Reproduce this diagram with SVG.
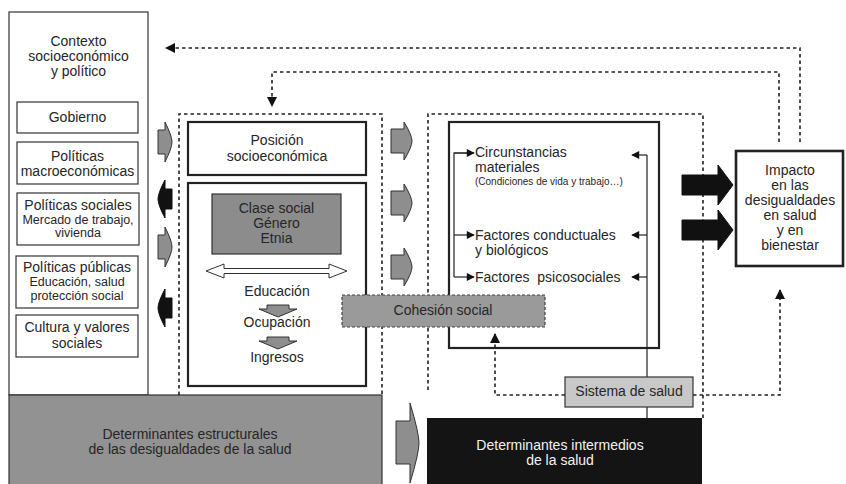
<svg xmlns="http://www.w3.org/2000/svg" width="846" height="484" viewBox="0 0 846 484">
<style>
text{font-family:"Liberation Sans",Arial,sans-serif;fill:#262626;text-anchor:middle;font-size:14px}
.l{text-anchor:start}
.s{font-size:12.5px}
.xs{font-size:10px}
.box{fill:#fff;stroke:#333;stroke-width:1.2}
.tb{fill:#fff;stroke:#222;stroke-width:2.2}
.dot{fill:none;stroke:#222;stroke-width:1.6;stroke-dasharray:3.5,3}
.ga{fill:#8e8e8e;stroke:#333;stroke-width:1}
.ba{fill:#111;stroke:#111;stroke-width:1}
.thin{fill:none;stroke:#222;stroke-width:1.2}
</style>
<defs>
<marker id="ah" viewBox="0 0 10 10" refX="9" refY="5" markerWidth="10" markerHeight="10" markerUnits="userSpaceOnUse" orient="auto"><path d="M0,0 L10,5 L0,10 z" fill="#111"/></marker>
<marker id="sa" viewBox="0 0 10 10" refX="9" refY="5" markerWidth="9" markerHeight="8" markerUnits="userSpaceOnUse" orient="auto"><path d="M0,0 L10,5 L0,10 z" fill="#111"/></marker>
</defs>
<rect width="846" height="484" fill="#fff"/>

<g id="contexto">
<rect class="box" x="9" y="12" width="139" height="383"/>
<text x="78.5" y="46">Contexto</text>
<text x="78.5" y="61">socioeconómico</text>
<text x="78.5" y="76">y político</text>
</g>
<g id="gobierno"><rect class="box" x="17" y="102" width="121" height="31"/><text x="77.5" y="122">Gobierno</text></g>
<g id="macro"><rect class="box" x="17" y="142" width="121" height="42"/><text x="77.5" y="161">Políticas</text><text x="77.5" y="176">macroeconómicas</text></g>
<g id="sociales"><rect class="box" x="17" y="193" width="122" height="52"/><text x="78" y="210">Políticas sociales</text><text class="s" x="78" y="223.5">Mercado de trabajo,</text><text class="s" x="78" y="236.5">vivienda</text></g>
<g id="publicas"><rect class="box" x="16" y="256" width="122" height="52"/><text x="77" y="272">Políticas públicas</text><text class="s" x="77" y="285.5">Educación, salud</text><text class="s" x="77" y="299.5">protección social</text></g>
<g id="cultura"><rect class="box" x="16" y="315" width="122" height="42"/><text x="77" y="332">Cultura y valores</text><text x="77" y="348">sociales</text></g>

<g id="estructurales">
<rect x="9" y="395" width="373" height="95" fill="#929292" stroke="#333" stroke-width="1.2"/>
<text x="190" y="439">Determinantes estructurales</text>
<text x="190" y="454">de las desigualdades de la salud</text>
</g>

<g id="intermedios">
<rect x="427" y="418" width="275" height="70" fill="#141414"/>
<text x="560" y="450" style="fill:#f2f2f2">Determinantes intermedios</text>
<text x="560" y="465" style="fill:#f2f2f2">de la salud</text>
</g>

<g id="dotted-frames">
<path class="dot" d="M179,395 V114 H382 V395"/>
<path class="dot" d="M428,390 V114 H703 V418"/>
</g>

<g id="posicion"><rect class="tb" x="188" y="122" width="178" height="53"/><text x="277" y="145">Posición</text><text x="277" y="161">socioeconómica</text></g>
<g id="estratificacion">
<rect class="tb" x="188" y="183" width="178" height="203"/>
<rect x="212" y="194" width="129" height="60" fill="#8c8c8c" stroke="#333" stroke-width="1.2"/>
<text x="276.5" y="213">Clase social</text><text x="276.5" y="228">Género</text><text x="276.5" y="243">Etnia</text>
<polygon points="206,271 224,264 224,268.5 329,268.5 329,264 347,271 329,278 329,273.5 224,273.5 224,278" fill="#fff" stroke="#333" stroke-width="1"/>
<text x="277" y="296">Educación</text>
<polygon class="ga" points="267,305 289,305 289,309 297,309 278,317 259,309 267,309"/>
<text x="277" y="327">Ocupación</text>
<polygon class="ga" points="267,337 289,337 289,341 297,341 278,349 259,341 267,341"/>
<text x="277" y="362">Ingresos</text>
</g>

<g id="intermedios-box">
<rect class="tb" x="449" y="122" width="210" height="226"/>
<text class="l" x="475" y="157">Circunstancias</text>
<text class="l" x="475" y="172">materiales</text>
<text class="l xs" x="475" y="184.5">(Condiciones de vida y trabajo…)</text>
<text class="l" x="475" y="240">Factores conductuales</text>
<text class="l" x="475" y="255">y biológicos</text>
<text class="l" x="475" y="282" style="white-space:pre">Factores  psicosociales</text>
</g>

<g id="connectors">
<path class="dot" d="M800,142 V48 H166" marker-end="url(#ah)"/>
<path class="dot" d="M779,142 V72 H272 V106" marker-end="url(#ah)"/>
<path class="dot" d="M565,395 H495 V334" marker-end="url(#ah)"/>
<path class="dot" d="M693,395 H780 V290" marker-end="url(#ah)"/>
<path class="thin" d="M473,153 H454 V277"/>
<path class="thin" d="M454,153 H474" marker-end="url(#sa)"/>
<path class="thin" d="M454,235 H474" marker-end="url(#sa)"/>
<path class="thin" d="M454,277 H474" marker-end="url(#sa)"/>
<path class="thin" d="M647,155 V418"/>
<path class="thin" d="M647,155 H632" marker-end="url(#sa)"/>
<path class="thin" d="M647,235 H632" marker-end="url(#sa)"/>
<path class="thin" d="M647,277 H632" marker-end="url(#sa)"/>
<path class="ga" d="M158,130 H165 V122 Q172,136 172,142 Q172,148 165,162 V154 H158 Z"/>
<path class="ba" d="M172,189 H165 V180 Q158,193 158,199 Q158,205 165,218 V209 H172 Z"/>
<path class="ga" d="M158,235 H165 V227 Q172,241 172,247 Q172,253 165,267 V259 H158 Z"/>
<path class="ba" d="M172,298 H165 V289 Q158,302 158,308 Q158,314 165,327 V318 H172 Z"/>
<path class="ga" d="M391,129 H404 V122 Q412,135 412,141 Q412,147 404,160 V153 H391 Z"/>
<path class="ga" d="M391,191 H404 V184 Q412,197 412,203 Q412,209 404,222 V215 H391 Z"/>
<path class="ga" d="M391,255 H404 V248 Q412,261 412,267 Q412,273 404,286 V279 H391 Z"/>
<path class="ga" d="M396,421 H410 V403 Q419,433 419,443 Q419,453 410,483 V464 H396 Z"/>
<polygon class="ba" points="682,175 718,175 718,165 733,185 718,205 718,195 682,195"/>
<polygon class="ba" points="682,220 718,220 718,210 733,230 718,250 718,240 682,240"/>
</g>

<g id="cohesion">
<rect x="342" y="295" width="203" height="32" fill="#9a9a9a" stroke="#444" stroke-width="1.2" stroke-dasharray="3,2"/>
<text x="443" y="315">Cohesión social</text>
</g>
<g id="sistema">
<rect x="565" y="377" width="128" height="30" fill="#c8c8c8" stroke="#333" stroke-width="1.2"/>
<text x="629" y="396">Sistema de salud</text>
</g>
<g id="impacto">
<rect x="736" y="151" width="107" height="115" fill="#fff" stroke="#222" stroke-width="2.6"/>
<text x="790" y="175">Impacto</text>
<text x="790" y="190">en las</text>
<text x="790" y="205">desigualdades</text>
<text x="790" y="220">en salud</text>
<text x="790" y="235">y en</text>
<text x="790" y="250">bienestar</text>
</g>
</svg>
